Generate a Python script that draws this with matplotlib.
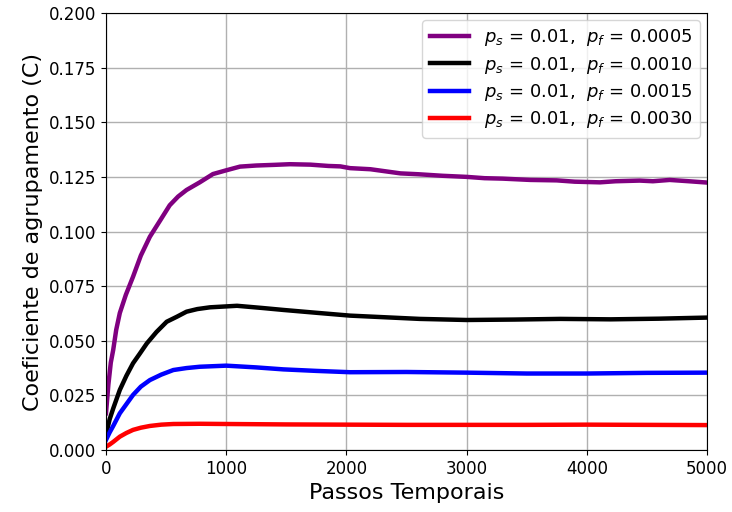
import matplotlib
matplotlib.use("Agg")
import matplotlib.pyplot as plt

# Clustering coefficient over time, p_s fixed at 0.01, varying p_f
steps_a = [0, 20, 40, 60, 85, 115, 165, 225, 290, 365, 450, 530, 600, 670,
           780, 890, 1000, 1115, 1250, 1400, 1530, 1700, 1850, 1950, 2030,
           2200, 2450, 2600, 2800, 3000, 3150, 3300, 3530, 3750, 3900, 4110,
           4240, 4440, 4550, 4690, 4850, 5000]
coef_a = [0.0168, 0.0300, 0.0400, 0.0458, 0.0550, 0.0627, 0.0710, 0.0793,
          0.0890, 0.0976, 0.1050, 0.1120, 0.1160, 0.1190, 0.1225, 0.1263,
          0.1280, 0.1297, 0.1302, 0.1305, 0.1308, 0.1306, 0.1300, 0.1298,
          0.1290, 0.1285, 0.1266, 0.1262, 0.1255, 0.1250, 0.1244, 0.1242,
          0.1236, 0.1234, 0.1228, 0.1225, 0.1230, 0.1233, 0.1230, 0.1236,
          0.1230, 0.1224]

steps_b = [0, 30, 60, 115, 170, 225, 280, 340, 420, 505, 590, 670, 760, 865,
           1090, 1300, 1475, 1750, 2030, 2300, 2610, 3000, 3400, 3780, 4200,
           4600, 5000]
coef_b = [0.0069, 0.0140, 0.0190, 0.0275, 0.0340, 0.0397, 0.0440, 0.0488,
          0.0540, 0.0587, 0.0610, 0.0633, 0.0645, 0.0653, 0.0660, 0.0650,
          0.0641, 0.0628, 0.0615, 0.0608, 0.0600, 0.0595, 0.0597, 0.0600,
          0.0598, 0.0601, 0.0606]

steps_c = [0, 30, 60, 115, 170, 225, 290, 365, 460, 560, 670, 780, 1000,
           1250, 1475, 1750, 2030, 2500, 3000, 3500, 4000, 4500, 5000]
coef_c = [0.0046, 0.0080, 0.0110, 0.0168, 0.0210, 0.0252, 0.0290, 0.0320,
          0.0345, 0.0366, 0.0375, 0.0381, 0.0386, 0.0378, 0.0369, 0.0362,
          0.0356, 0.0357, 0.0354, 0.0350, 0.0350, 0.0353, 0.0354]

steps_d = [0, 30, 60, 115, 170, 225, 290, 365, 460, 560, 780, 1000, 1500,
           2000, 2500, 3000, 3500, 4000, 4500, 5000]
coef_d = [0.0015, 0.0025, 0.0037, 0.0061, 0.0078, 0.0092, 0.0102, 0.0110,
          0.0116, 0.0119, 0.0120, 0.0119, 0.0117, 0.0116, 0.0115, 0.0115,
          0.0115, 0.0116, 0.0115, 0.0114]

labels = [
    r"$p_s$ = 0.01,  $p_f$ = 0.0005",
    r"$p_s$ = 0.01,  $p_f$ = 0.0010",
    r"$p_s$ = 0.01,  $p_f$ = 0.0015",
    r"$p_s$ = 0.01,  $p_f$ = 0.0030",
]
colors = ["purple", "black", "blue", "red"]

series = [(steps_a, coef_a), (steps_b, coef_b), (steps_c, coef_c), (steps_d, coef_d)]

fig = plt.figure(figsize=(7.32, 5.12), dpi=100)
ax = fig.add_axes([0.1448, 0.1211, 0.821, 0.8535])

for (xs, ys), lab, col in zip(series, labels, colors):
    ax.plot(xs, ys, color=col, lw=3.2, label=lab)

ax.set_xlim(0, 5000)
ax.set_ylim(0, 0.2)
ax.set_xticks([0, 1000, 2000, 3000, 4000, 5000])
ax.set_yticks([0.0, 0.025, 0.05, 0.075, 0.1, 0.125, 0.15, 0.175, 0.2])
ax.set_yticklabels([f"{v:.3f}" for v in ax.get_yticks()])
ax.tick_params(labelsize=12)
ax.grid(True, color="#b0b0b0", lw=1)
ax.set_axisbelow(True)

ax.set_xlabel("Passos Temporais", fontsize=16)
ax.set_ylabel("Coeficiente de agrupamento (C)", fontsize=16)
ax.legend(loc="upper right", fontsize=13, handlelength=2.2, labelspacing=0.35,
          borderaxespad=0.4)

fig.savefig("out.png", dpi=100)
